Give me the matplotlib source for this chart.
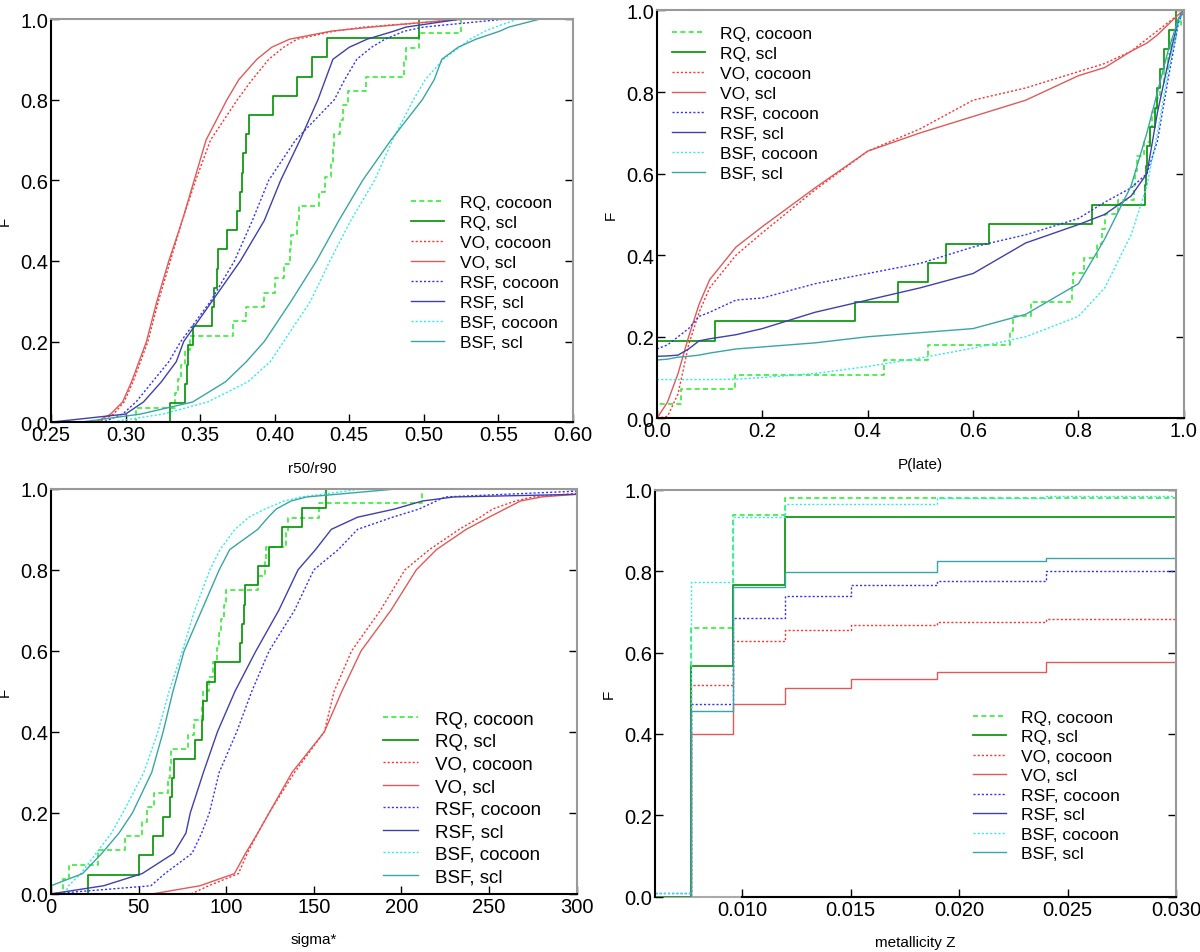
import numpy as np
import matplotlib
matplotlib.use("Agg")
import matplotlib.pyplot as plt
from matplotlib.ticker import FormatStrFormatter

plt.rcParams['font.family'] = ['Liberation Sans', 'DejaVu Sans']

# series labels (legend order)
labels = ["RQ, cocoon", "RQ, scl", "VO, cocoon", "VO, scl",
          "RSF, cocoon", "RSF, scl", "BSF, cocoon", "BSF, scl"]

# ---- panel 1: r50/r90 ----
# RQ: individual sample values (small samples, drawn as step CDFs)
r5090_rq_cocoon = [0.307, 0.333, 0.335, 0.337, 0.340, 0.343, 0.372, 0.381, 0.393, 0.400,
                   0.406, 0.410, 0.411, 0.415, 0.416, 0.430, 0.434, 0.438, 0.439, 0.440,
                   0.444, 0.446, 0.449, 0.461, 0.487, 0.488, 0.497, 0.525]
r5090_rq_scl = [0.330, 0.340, 0.341, 0.342, 0.345, 0.358, 0.359, 0.361, 0.362, 0.368,
                0.375, 0.377, 0.378, 0.379, 0.381, 0.383, 0.399, 0.415, 0.425, 0.435, 0.497]
# large samples: value reached at each F level
F_LEVELS = [0, 0.02, 0.05, 0.1, 0.15, 0.2, 0.3, 0.4, 0.5, 0.6, 0.7, 0.8, 0.85, 0.9,
            0.93, 0.95, 0.97, 0.98, 1.0]
r5090_vo_cocoon = [0.282, 0.292, 0.299, 0.305, 0.310, 0.315, 0.322, 0.330, 0.338, 0.347,
                   0.357, 0.375, 0.385, 0.396, 0.406, 0.415, 0.440, 0.460, 0.530]
r5090_vo_scl = [0.280, 0.290, 0.298, 0.304, 0.309, 0.314, 0.321, 0.329, 0.338, 0.346,
                0.354, 0.368, 0.376, 0.388, 0.398, 0.410, 0.438, 0.465, 0.525]
r5090_rsf_cocoon = [0.285, 0.298, 0.307, 0.318, 0.329, 0.337, 0.357, 0.373, 0.385, 0.396,
                    0.414, 0.440, 0.447, 0.455, 0.465, 0.474, 0.487, 0.500, 0.555]
r5090_rsf_scl = [0.250, 0.300, 0.312, 0.324, 0.334, 0.339, 0.358, 0.377, 0.393, 0.404,
                 0.417, 0.429, 0.434, 0.439, 0.450, 0.462, 0.480, 0.488, 0.525]
r5090_bsf_cocoon = [0.290, 0.325, 0.355, 0.382, 0.397, 0.406, 0.424, 0.437, 0.451, 0.467,
                    0.479, 0.493, 0.501, 0.513, 0.524, 0.531, 0.541, 0.548, 0.563]
r5090_bsf_scl = [0.270, 0.310, 0.345, 0.367, 0.381, 0.393, 0.411, 0.428, 0.443, 0.459,
                 0.478, 0.499, 0.507, 0.512, 0.523, 0.535, 0.551, 0.557, 0.578]

# ---- panel 2: P(late) ----
plate_rq_cocoon = [0.0, 0.045, 0.148, 0.430, 0.515, 0.670, 0.675, 0.710, 0.788, 0.790,
                   0.810, 0.835, 0.845, 0.850, 0.875, 0.905, 0.908, 0.912, 0.925, 0.935,
                   0.940, 0.950, 0.955, 0.962, 0.970, 0.975, 0.985, 0.995]
plate_rq_scl = [0.0, 0.0, 0.0, 0.0, 0.111, 0.375, 0.457, 0.514, 0.549, 0.630,
                0.825, 0.927, 0.928, 0.930, 0.935, 0.945, 0.950, 0.955, 0.963, 0.972, 0.985]
# large samples: F at each P(late) value
PLATE_GRID = [0, 0.02, 0.04, 0.06, 0.08, 0.1, 0.15, 0.2, 0.3, 0.4, 0.5, 0.6, 0.7, 0.8,
              0.85, 0.9, 0.93, 0.95, 0.97, 0.99, 1.0]
plate_vo_cocoon = [0.0, 0.005, 0.06, 0.18, 0.26, 0.32, 0.40, 0.455, 0.56, 0.655, 0.71,
                   0.78, 0.81, 0.85, 0.87, 0.90, 0.93, 0.95, 0.97, 0.99, 1.0]
plate_vo_scl = [0.0, 0.04, 0.11, 0.2, 0.28, 0.34, 0.42, 0.47, 0.565, 0.655, 0.70,
                0.74, 0.78, 0.84, 0.86, 0.90, 0.92, 0.94, 0.965, 0.99, 1.0]
plate_rsf_cocoon = [0.17, 0.18, 0.2, 0.22, 0.25, 0.26, 0.29, 0.295, 0.33, 0.355, 0.38,
                    0.42, 0.45, 0.49, 0.53, 0.565, 0.60, 0.68, 0.83, 0.97, 1.0]
plate_rsf_scl = [0.152, 0.153, 0.155, 0.17, 0.19, 0.195, 0.205, 0.22, 0.26, 0.29, 0.32,
                 0.355, 0.43, 0.475, 0.50, 0.545, 0.60, 0.75, 0.87, 0.98, 1.0]
plate_bsf_cocoon = [0.095, 0.095, 0.095, 0.095, 0.095, 0.095, 0.096, 0.1, 0.11, 0.127, 0.148,
                    0.172, 0.2, 0.25, 0.32, 0.45, 0.57, 0.70, 0.85, 0.97, 1.0]
plate_bsf_scl = [0.143, 0.145, 0.15, 0.152, 0.155, 0.16, 0.17, 0.175, 0.185, 0.2, 0.21,
                 0.22, 0.255, 0.33, 0.44, 0.57, 0.70, 0.80, 0.90, 0.98, 1.0]

# ---- panel 3: sigma* ----
sigma_rq_cocoon = [7, 10, 27, 42, 52, 55, 58.6, 67, 68, 68.5, 78, 81.7, 86, 87,
                   90.4, 92.6, 94.8, 96, 97, 99, 100, 118, 122, 123, 134, 135.5, 153, 212]
sigma_rq_scl = [21, 50.5, 58, 64, 68, 69, 70, 82, 86, 87, 89, 93.5, 108, 109, 110,
                110.5, 118, 124.5, 132, 143.5, 157]
sigma_vo_cocoon = [80, 90, 107, 112, 118, 124.5, 139, 156, 161.6, 171.6, 188, 202, 216,
                   233, 245, 252, 265, 275, 330]
sigma_vo_scl = [58, 85, 104.7, 111, 118, 124.5, 137.6, 156, 166, 177, 194, 208.5, 220,
                237, 250, 259, 268, 280, 340]
sigma_rsf_cocoon = [0, 57, 65, 80.5, 86, 90.4, 96, 106, 114.6, 124.5, 139, 150, 164,
                    175, 195, 210, 220, 225, 330]
sigma_rsf_scl = [0, 30, 52, 70, 77, 79.5, 87, 95, 105, 117, 130, 141, 151, 160, 175,
                 196, 212, 230, 450]
sigma_bsf_cocoon = [8, 10, 17, 25.7, 34.5, 41, 53, 61, 67.4, 75, 82, 90.7, 96.5, 105,
                    113, 122, 133, 143, 178]
sigma_bsf_scl = [0, 0, 18, 29, 38.8, 46.5, 57.5, 64, 69.6, 76, 86, 96, 102, 118,
                 124, 128.5, 137, 146, 198]

# ---- panel 4: metallicity Z (discrete model grid) ----
Z_GRID = [0.006, 0.00767, 0.0096, 0.012, 0.015, 0.019, 0.024, 0.030]
z_rq_cocoon = [0, 0.66, 0.937, 0.98, 0.98, 0.98, 0.98, 0.98]
z_rq_scl = [0, 0.567, 0.767, 0.933, 0.933, 0.933, 0.933, 1.0]
z_vo_cocoon = [0, 0.52, 0.628, 0.655, 0.667, 0.675, 0.682, 0.682]
z_vo_scl = [0, 0.40, 0.473, 0.514, 0.535, 0.552, 0.576, 1.0]
z_rsf_cocoon = [0.008, 0.474, 0.685, 0.738, 0.765, 0.777, 0.80, 0.80]
z_rsf_scl = []  # not visible in this panel
z_bsf_cocoon = [0.01, 0.773, 0.932, 0.966, 0.966, 0.98, 0.985, 0.985]
z_bsf_scl = [0, 0.457, 0.762, 0.797, 0.797, 0.826, 0.833, 0.833]

# styles
colors = ['#33ee33', '#129a12', '#ff3030', '#e05a5a', '#3030ff', '#4040aa', '#30eaf0', '#3aa5a5']
styles = [(0, (3, 2)), '-', (0, (1.5, 1.5)), '-', (0, (1.5, 1.5)), '-', (0, (1.5, 1.5)), '-']
widths = [1.2, 1.3, 1.0, 1.0, 1.0, 1.0, 1.0, 1.0]


def step_cdf(ax, samples, xlo, xhi, i):
    s = np.sort(np.asarray(samples, float))
    n = len(s)
    x = np.r_[xlo, s, xhi]
    f = np.r_[0, np.arange(1, n + 1) / n, 1.0]
    ax.plot(x, f, drawstyle='steps-post', color=colors[i], ls=styles[i], lw=widths[i], label=labels[i])


def style_axes(ax, xlim, xticks, xfmt, xlabel):
    ax.set_xlim(*xlim)
    ax.set_ylim(0, 1)
    ax.set_xticks(xticks)
    ax.set_yticks([0, 0.2, 0.4, 0.6, 0.8, 1.0])
    ax.xaxis.set_major_formatter(FormatStrFormatter(xfmt))
    ax.yaxis.set_major_formatter(FormatStrFormatter('%.1f'))
    ax.tick_params(direction='in', length=6, width=1, labelsize=14.5, pad=2,
                   left=True, bottom=True, right=True, top=False)
    for side in ['top', 'right']:
        ax.spines[side].set_color('#999999')
        ax.spines[side].set_linewidth(1.5)
    for side in ['left', 'bottom']:
        ax.spines[side].set_linewidth(1.5)
    ax.set_xlabel(xlabel, fontsize=11, labelpad=12)
    ax.set_ylabel('F', fontsize=11, labelpad=6)


def add_legend(ax, x, y, fs, spacing):
    ax.legend(loc='upper left', bbox_to_anchor=(x, y), frameon=False, fontsize=fs,
              handlelength=1.9, handletextpad=0.9, labelspacing=spacing,
              borderpad=0, borderaxespad=0)


fig = plt.figure(figsize=(12, 9.53), dpi=100)
ax1 = fig.add_axes([0.0425, 0.556, 0.435, 0.423])
ax2 = fig.add_axes([0.5475, 0.560, 0.439, 0.428])
ax3 = fig.add_axes([0.0425, 0.061, 0.438, 0.425])
ax4 = fig.add_axes([0.546, 0.058, 0.434, 0.427])

# panel 1
r_q = [r5090_vo_cocoon, r5090_vo_scl, r5090_rsf_cocoon, r5090_rsf_scl, r5090_bsf_cocoon, r5090_bsf_scl]
step_cdf(ax1, r5090_rq_cocoon, 0.25, 0.60, 0)
step_cdf(ax1, r5090_rq_scl, 0.25, 0.60, 1)
for k, q in enumerate(r_q):
    i = k + 2
    ax1.plot(np.r_[0.25, q, 0.60], np.r_[0, F_LEVELS, 1], color=colors[i], ls=styles[i], lw=widths[i], label=labels[i])
style_axes(ax1, (0.25, 0.60), np.arange(0.25, 0.601, 0.05), '%.2f', 'r50/r90')
add_legend(ax1, 0.69, 0.563, 12.5, 0.28)

# panel 2
p_f = [plate_vo_cocoon, plate_vo_scl, plate_rsf_cocoon, plate_rsf_scl, plate_bsf_cocoon, plate_bsf_scl]
step_cdf(ax2, plate_rq_cocoon, 0.0, 1.0, 0)
step_cdf(ax2, plate_rq_scl, 0.0, 1.0, 1)
for k, f in enumerate(p_f):
    i = k + 2
    ax2.plot(PLATE_GRID, f, color=colors[i], ls=styles[i], lw=widths[i], label=labels[i])
style_axes(ax2, (0.0, 1.0), np.arange(0, 1.01, 0.2), '%.1f', 'P(late)')
add_legend(ax2, 0.028, 0.963, 12.5, 0.28)

# panel 3
s_q = [sigma_vo_cocoon, sigma_vo_scl, sigma_rsf_cocoon, sigma_rsf_scl, sigma_bsf_cocoon, sigma_bsf_scl]
step_cdf(ax3, sigma_rq_cocoon, 0, 300, 0)
step_cdf(ax3, sigma_rq_scl, 0, 300, 1)
for k, q in enumerate(s_q):
    i = k + 2
    ax3.plot(q, F_LEVELS, color=colors[i], ls=styles[i], lw=widths[i], label=labels[i])
style_axes(ax3, (0, 300), np.arange(0, 301, 50), '%d', 'sigma*')
add_legend(ax3, 0.631, 0.453, 13.5, 0.29)

# panel 4
z_f = [z_rq_cocoon, z_rq_scl, z_vo_cocoon, z_vo_scl, z_rsf_cocoon, z_rsf_scl, z_bsf_cocoon, z_bsf_scl]
for i, f in enumerate(z_f):
    zx = Z_GRID[:len(f)]
    ax4.plot(zx, f, drawstyle='steps-post', color=colors[i], ls=styles[i], lw=widths[i], label=labels[i])
style_axes(ax4, (0.006, 0.030), [0.010, 0.015, 0.020, 0.025, 0.030], '%.3f', 'metallicity Z')
ax4.spines['bottom'].set_bounds(0.010, 0.030)
ax4.axhline(0, color='#aaaaaa', lw=1.5, zorder=0.5, clip_on=False)
add_legend(ax4, 0.61, 0.46, 12.5, 0.25)

fig.savefig('out.png', dpi=100)
